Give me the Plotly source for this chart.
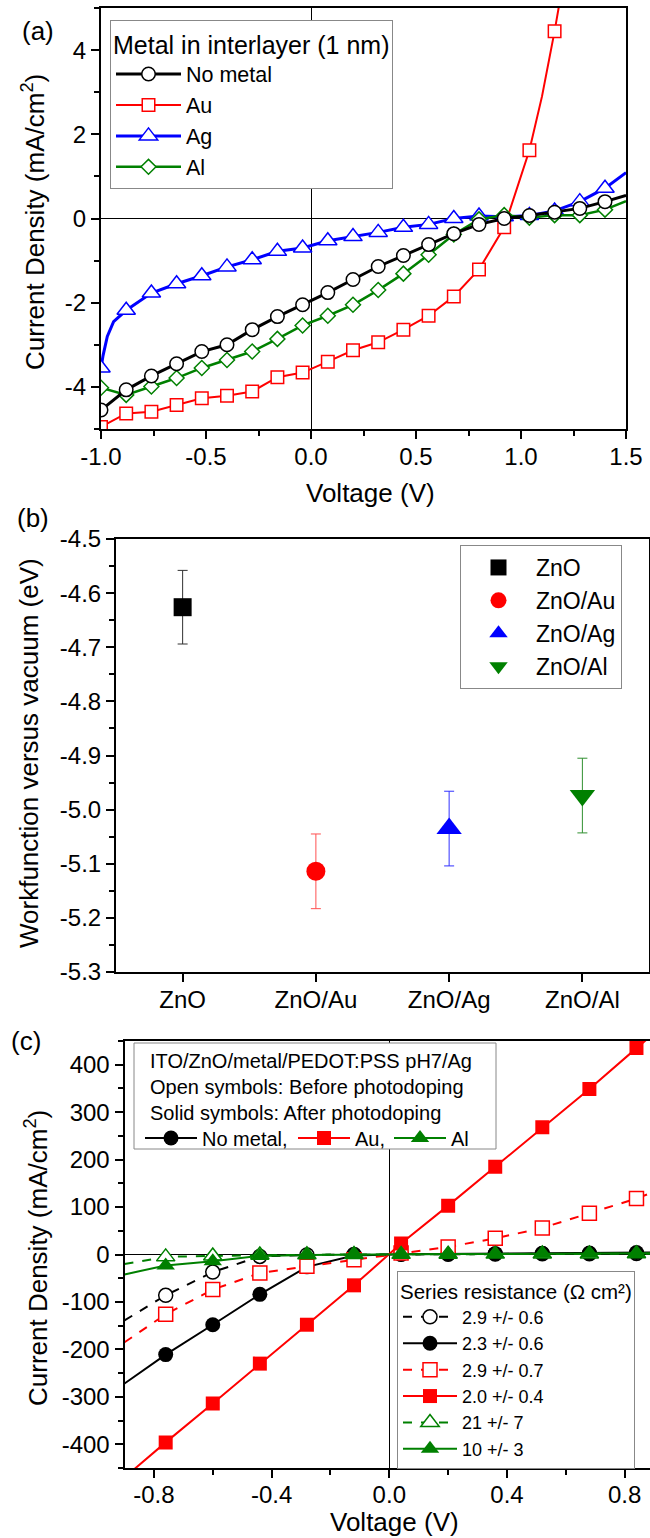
import plotly.graph_objects as go

W, H = 650, 1538
FONT = "Liberation Sans, Arial, sans-serif"

# ---------------- Panel (a): J-V curves ----------------
V_a = [-1.00, -0.88, -0.76, -0.64, -0.52, -0.40, -0.28, -0.16, -0.04, 0.08, 0.20,
       0.32, 0.44, 0.56, 0.68, 0.80, 0.92, 1.04, 1.16, 1.28, 1.40]
J_nometal = [-4.55, -4.07, -3.74, -3.45, -3.16, -3.00, -2.64, -2.33, -2.05, -1.76, -1.45,
             -1.14, -0.88, -0.62, -0.36, -0.14, 0.00, 0.07, 0.15, 0.24, 0.40]
J_au = [-4.95, -4.63, -4.59, -4.43, -4.27, -4.21, -4.11, -3.77, -3.66, -3.40, -3.13,
        -2.94, -2.64, -2.31, -1.85, -1.21, -0.21, 1.62, 4.45]
J_ag = [-3.55, -2.18, -1.77, -1.55, -1.36, -1.15, -0.98, -0.78, -0.70, -0.53, -0.43,
        -0.33, -0.21, -0.14, 0.00, 0.06, 0.04, 0.07, 0.18, 0.40, 0.72]
J_al = [-4.02, -4.19, -3.99, -3.79, -3.55, -3.36, -3.16, -2.86, -2.54, -2.31, -2.05,
        -1.70, -1.31, -0.86, -0.38, -0.02, 0.08, 0.02, 0.08, 0.08, 0.21]
# curve points between / beyond the symbols (line only)
Vx_nometal, Jx_nometal = [1.50], [0.55]
Vx_au, Jx_au = [1.10, 1.20], [2.90, 5.60]
Vx_ag, Jx_ag = [-0.99, -0.97, -0.94, 1.50], [-3.25, -2.80, -2.45, 1.09]
Vx_al, Jx_al = [1.50], [0.41]
ticks_a_x = [-1.0, -0.5, 0.0, 0.5, 1.0, 1.5]
ticks_a_y = [-4, -2, 0, 2, 4]

# ---------------- Panel (b): workfunction ----------------
materials = ["ZnO", "ZnO/Au", "ZnO/Ag", "ZnO/Al"]
workfunction = [-4.626, -5.114, -5.035, -4.974]
wf_error = [0.068, 0.069, 0.069, 0.069]
ticks_b_y = [-5.3, -5.2, -5.1, -5.0, -4.9, -4.8, -4.7, -4.6, -4.5]

# ---------------- Panel (c): before / after photodoping ----------------
V_c = [-0.76, -0.60, -0.44, -0.28, -0.12, 0.04, 0.20, 0.36, 0.52, 0.68, 0.84]
J_nm_before = [-86, -37, -4, -1, 0, 0.3, 0.6, 1.0, 1.4, 1.8, 2.2]
J_nm_after = [-211, -148, -84, -26, -2, 0.5, 1.2, 1.8, 2.5, 3.2, 4.0]
J_au_before = [-126, -74, -39, -25, -11, 3, 16, 34, 56, 87, 118]
J_au_after = [-396, -314, -230, -148, -65, 23, 103, 185, 268, 349, 435]
J_al_before = [-5, -3, -1, -0.5, 0, 0.3, 0.5, 0.8, 1.0, 1.2, 1.5]
J_al_after = [-23, -14, -3, -1, 0, 0.4, 0.8, 1.2, 1.6, 2.0, 2.4]
# curve ends at the plot edges (line only)
Vc_edge = [-0.90, 0.886]
Jc_edge_nm_before = [-139, 2.4]
Jc_edge_nm_after = [-272, 4.3]
Jc_edge_au_before = [-185, 129]
Jc_edge_au_after = [-470, 459]
Jc_edge_al_before = [-20, 1.6]
Jc_edge_al_after = [-42, 2.5]
series_resistance = ["2.9 +/- 0.6", "2.3 +/- 0.6", "2.9 +/- 0.7",
                     "2.0 +/- 0.4", "21 +/- 7", "10 +/- 3"]
c_info = ["ITO/ZnO/metal/PEDOT:PSS pH7/Ag", "Open symbols: Before photodoping",
          "Solid symbols: After photodoping"]
c_metals = ["No metal,", "Au,", "Al"]
ticks_c_x = [-0.8, -0.4, 0.0, 0.4, 0.8]
ticks_c_y = [-400, -300, -200, -100, 0, 100, 200, 300, 400]

BLACK, RED, BLUE, GREEN = "#000000", "#FF0000", "#0000FF", "#008000"


def merged(v, j, vx, jx):
    pts = sorted(zip(list(v) + list(vx), list(j) + list(jx)))
    return [p[0] for p in pts], [p[1] for p in pts]


def xd(l, r):
    return [l / W, r / W]


def yd(top, bot):
    return [1 - bot / H, 1 - top / H]


fig = go.Figure()

# ---- panel (a) traces ----
a_series = [
    ("Au", V_a[:len(J_au)], J_au, Vx_au, Jx_au, RED, "square", 12.5, 2),
    ("Ag", V_a, J_ag, Vx_ag, Jx_ag, BLUE, "triangle-up", 16, 3),
    ("Al", V_a, J_al, Vx_al, Jx_al, GREEN, "diamond", 11.5, 2.5),
    ("No metal", V_a, J_nometal, Vx_nometal, Jx_nometal, BLACK, "circle", 13.5, 3),
]
for name, v, j, vx, jx, col, sym, sz, lw in a_series:
    lv, lj = merged(v, j, vx, jx)
    fig.add_trace(go.Scatter(x=lv, y=lj, mode="lines", line=dict(color=col, width=lw),
                             showlegend=False, xaxis="x", yaxis="y", hoverinfo="skip"))
    fig.add_trace(go.Scatter(x=v, y=j, mode="markers", showlegend=False, xaxis="x", yaxis="y",
                             marker=dict(symbol=sym, size=sz, color="white",
                                         line=dict(color=col, width=1.5))))
# legend entries for (a) in the reference order
for name, col, sym, sz, lw in [("No metal", BLACK, "circle", 13.5, 3), ("Au", RED, "square", 12.5, 2),
                               ("Ag", BLUE, "triangle-up", 16, 3), ("Al", GREEN, "diamond", 11.5, 2.5)]:
    fig.add_trace(go.Scatter(x=[None], y=[None], mode="lines+markers", name=name, legend="legend",
                             line=dict(color=col, width=lw), xaxis="x", yaxis="y",
                             marker=dict(symbol=sym, size=sz, color="white", line=dict(color=col, width=1.5))))

# ---- panel (b) traces ----
b_style = [(BLACK, "square", 18, "#303030"), (RED, "circle", 19, "#FF5050"),
           (BLUE, "triangle-up", 22, "#3030FF"), (GREEN, "triangle-down", 22, "#309030")]
for m, wfv, err, (col, sym, sz, ecol) in zip(materials, workfunction, wf_error, b_style):
    fig.add_trace(go.Scatter(x=[m], y=[wfv], mode="markers", name=m, legend="legend2",
                             xaxis="x2", yaxis="y2",
                             marker=dict(symbol=sym, size=sz, color=col, line=dict(width=0)),
                             error_y=dict(type="data", array=[err], thickness=1, width=5, color=ecol)))

# ---- panel (c) traces ----
c_series = [
    (series_resistance[0], J_nm_before, Jc_edge_nm_before, BLACK, "circle", 14, True),
    (series_resistance[1], J_nm_after, Jc_edge_nm_after, BLACK, "circle", 15, False),
    (series_resistance[2], J_au_before, Jc_edge_au_before, RED, "square", 14, True),
    (series_resistance[3], J_au_after, Jc_edge_au_after, RED, "square", 14, False),
    (series_resistance[4], J_al_before, Jc_edge_al_before, GREEN, "triangle-up", 16, True),
    (series_resistance[5], J_al_after, Jc_edge_al_after, GREEN, "triangle-up", 16, False),
]
for name, j, je, col, sym, sz, is_open in c_series:
    lv, lj = merged(V_c, j, Vc_edge, je)
    dash = "dash" if is_open else "solid"
    mk = dict(symbol=sym, size=sz, color="white" if is_open else col,
              line=dict(color=col, width=1.5 if is_open else 0))
    fig.add_trace(go.Scatter(x=lv, y=lj, mode="lines", line=dict(color=col, width=2, dash=dash),
                             showlegend=False, xaxis="x3", yaxis="y3", hoverinfo="skip"))
    fig.add_trace(go.Scatter(x=V_c, y=j, mode="markers", marker=mk, showlegend=False,
                             xaxis="x3", yaxis="y3"))
    fig.add_trace(go.Scatter(x=[None], y=[None], mode="lines+markers", name=name, legend="legend3",
                             line=dict(color=col, width=2, dash=dash), marker=mk,
                             xaxis="x3", yaxis="y3"))
for name, col, sym, sz, lwid in zip(c_metals, [BLACK, RED, GREEN], ["circle", "square", "triangle-up"],
                                    [15, 14, 16], [86, 29, 30]):
    fig.add_trace(go.Scatter(x=[None], y=[None], mode="lines+markers", name=name, legend="legend4",
                             line=dict(color=col, width=2), marker=dict(symbol=sym, size=sz, color=col),
                             legendwidth=lwid, xaxis="x3", yaxis="y3"))


def lab(vals, fmt):
    return [format(v, fmt) for v in vals]


axis_common = dict(showline=True, linecolor="black", linewidth=2, showgrid=False,
                   ticks="outside", ticklen=8, tickwidth=1.5, tickcolor="black",
                   tickfont=dict(size=24, color="black", family=FONT), automargin=False)
minor_common = dict(ticks="outside", ticklen=5, tickwidth=1.5, tickcolor="black", showgrid=False)

fig.update_layout(
    width=W, height=H, margin=dict(l=0, r=0, t=0, b=0, autoexpand=False),
    paper_bgcolor="white", plot_bgcolor="white",
    font=dict(family=FONT, color="black"),
    xaxis=dict(domain=xd(101, 626), range=[-1.0, 1.5], tickmode="array", tickvals=ticks_a_x,
               ticktext=lab(ticks_a_x, ".1f"), mirror=True, zeroline=True, zerolinecolor="black",
               zerolinewidth=1.3, minor=dict(dtick=0.25, tick0=0, **minor_common), anchor="y",
               ticklabelstandoff=-3, **axis_common),
    yaxis=dict(domain=yd(8, 429), range=[-5, 5], tickmode="array", tickvals=ticks_a_y,
               ticktext=lab(ticks_a_y, "d"), mirror=True, zeroline=True, zerolinecolor="black",
               zerolinewidth=1.3, minor=dict(dtick=1, tick0=0, **minor_common), anchor="x",
               **axis_common),
    xaxis2=dict(domain=xd(116, 649), type="category", categoryorder="array", categoryarray=materials,
                range=[-0.5, 3.5], mirror=True, zeroline=False, anchor="y2",
                ticklabelstandoff=-3, **axis_common),
    yaxis2=dict(domain=yd(539, 972), range=[-5.3, -4.5], tickmode="array", tickvals=ticks_b_y,
                ticktext=lab(ticks_b_y, ".1f"), mirror=True, zeroline=False,
                minor=dict(dtick=0.05, tick0=0, **minor_common), anchor="x2", **axis_common),
    xaxis3=dict(domain=xd(124.5, 650), range=[-0.9, 0.886], tickmode="array", tickvals=ticks_c_x,
                ticktext=lab(ticks_c_x, ".1f"), mirror=True, zeroline=True, zerolinecolor="black",
                zerolinewidth=1.3, minor=dict(dtick=0.2, tick0=0, **minor_common), anchor="y3",
                ticklabelstandoff=-4, **axis_common),
    yaxis3=dict(domain=yd(1041, 1468), range=[-450, 450], tickmode="array", tickvals=ticks_c_y,
                ticktext=lab(ticks_c_y, "d"), mirror=False, zeroline=True, zerolinecolor="black",
                zerolinewidth=1.3, minor=dict(dtick=50, tick0=0, **minor_common), anchor="x3",
                **axis_common),
    legend=dict(x=110 / W, y=1 - 20 / H, xanchor="left", yanchor="top", bgcolor="white",
                bordercolor="#888888", borderwidth=1, font=dict(size=21.5, family=FONT),
                title=dict(text="Metal in interlayer (1 nm)", font=dict(size=25, family=FONT)),
                itemwidth=65, tracegroupgap=0),
    legend2=dict(x=460 / W, y=1 - 545 / H, xanchor="left", yanchor="top", bgcolor="white",
                 bordercolor="#888888", borderwidth=1, font=dict(size=23, family=FONT),
                 itemwidth=65, tracegroupgap=0),
    legend3=dict(x=397 / W, y=1 - 1271 / H, xanchor="left", yanchor="top", bgcolor="white",
                 bordercolor="#888888", borderwidth=1, font=dict(size=18, family=FONT),
                 title=dict(text="Series resistance (\u03a9 cm\u00b2)", font=dict(size=20.5, family=FONT)),
                 itemwidth=54, tracegroupgap=0),
    legend4=dict(x=140 / W, y=1 - 1138 / H, xanchor="left", yanchor="middle",
                 bgcolor="rgba(0,0,0,0)", borderwidth=0, font=dict(size=20, family=FONT),
                 orientation="h", itemwidth=52),
    shapes=[dict(type="rect", xref="paper", yref="paper", x0=134 / W, x1=496 / W,
                 y0=1 - 1149 / H, y1=1 - 1043 / H, fillcolor="white",
                 line=dict(color="#888888", width=1), layer="above")],
)

ann = []
for txt, x, y in [("(a)", 20, 31), ("(b)", 15, 518), ("(c)", 9, 1041)]:
    ann.append(dict(text=txt, x=x / W, y=1 - y / H, xref="paper", yref="paper", xanchor="left",
                    yanchor="middle", showarrow=False, font=dict(size=26, family=FONT)))
for txt, x, y in [("Current Density (mA/cm<sup>2</sup>)", 34, 222),
                  ("Workfunction versus vacuum (eV)", 29, 753),
                  ("Current Density (mA/cm<sup>2</sup>)", 36, 1258)]:
    ann.append(dict(text=txt, x=x / W, y=1 - y / H, xref="paper", yref="paper", xanchor="center",
                    yanchor="middle", textangle=-90, showarrow=False, font=dict(size=26, family=FONT)))
for txt, x, y in [("Voltage (V)", 370, 493), ("Voltage (V)", 395, 1522)]:
    ann.append(dict(text=txt, x=x / W, y=1 - y / H, xref="paper", yref="paper", xanchor="center",
                    yanchor="middle", showarrow=False, font=dict(size=26, family=FONT)))
ann.append(dict(text="<br>".join(c_info), x=148 / W, y=1 - 1087 / H, xref="paper", yref="paper",
                xanchor="left", yanchor="middle", align="left", showarrow=False,
                font=dict(size=20, family=FONT)))
fig.update_layout(annotations=ann)

fig.write_html("out.html", config={"displayModeBar": False},
               post_script="document.body.style.margin='0px';"
                           "document.body.style.overflow='hidden';")
